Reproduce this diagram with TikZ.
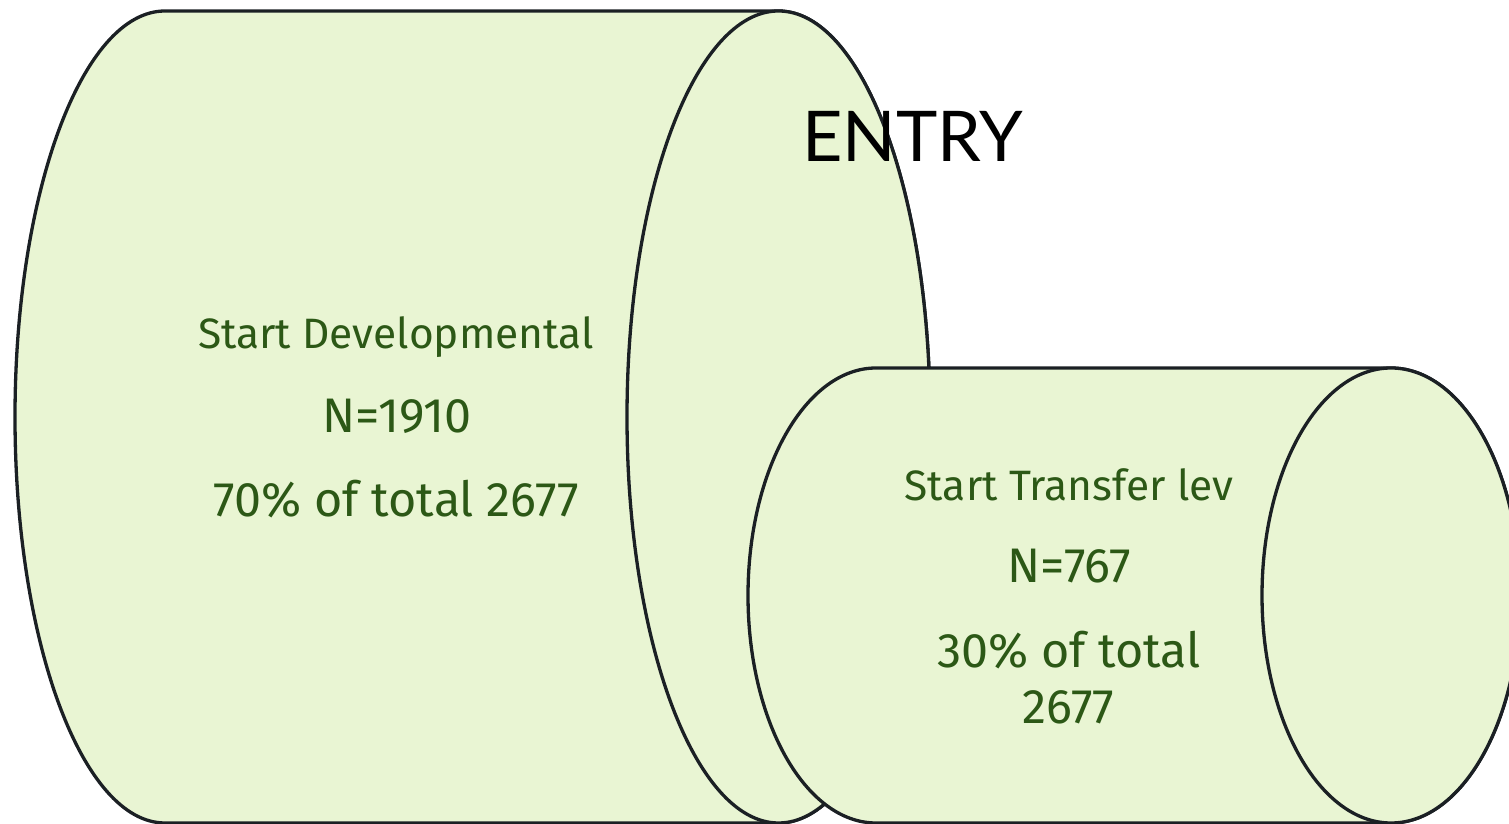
\documentclass[tikz,border=0pt]{standalone}
\usepackage{fontspec}
\setmainfont{Fira Sans}
\newfontfamily\titlefont{Lato}
\definecolor{cylfill}{HTML}{E9F5D3}
\definecolor{cylline}{HTML}{1B2024}
\definecolor{labelgreen}{RGB}{44,88,22}
\begin{document}
\begin{tikzpicture}[x=1pt,y=1pt,
  cylbody/.style={fill=cylfill,draw=cylline,line width=3.3pt,line join=round},
  headline/.style={anchor=base,text=labelgreen,font=\fontsize{42.5}{48}\selectfont},
  bigline/.style={anchor=base,text=labelgreen,font=\fontsize{48.5}{52}\selectfont},
  titletext/.style={anchor=base,text=black,font=\titlefont\fontsize{70}{76}\selectfont}]
\path[use as bounding box,clip] (0,0) rectangle (1509,824);

% large cylinder: developmental entry
\path[cylbody] (165,813) -- (778.5,813)
  arc[start angle=90,end angle=-90,x radius=151.5,y radius=406]
  -- (165,1)
  arc[start angle=270,end angle=90,x radius=150,y radius=406] -- cycle;
\draw[cylbody] (778.5,407) ellipse[x radius=151.5,y radius=406];

% small cylinder: transfer-level entry
\path[cylbody] (876,456) -- (1391,456)
  arc[start angle=90,end angle=-90,x radius=129,y radius=227.5]
  -- (876,1)
  arc[start angle=270,end angle=90,x radius=128,y radius=227.5] -- cycle;
\draw[cylbody] (1391,228.5) ellipse[x radius=129,y radius=227.5];

% labels
\node[headline] (devname) at (396,475) {Start Developmental};
\node[bigline] (devn) at (397,391.3) {N=1910};
\node[bigline] (devpct) at (396,307.3) {70\% of total 2677};

\node[headline] (trname) at (1069,323.3) {Start Transfer lev};
\node[bigline] (trn) at (1069,241.3) {N=767};
\node[bigline] (trpct) at (1069,156.7) {30\% of total};
\node[bigline] (trtot) at (1068.5,100.7) {2677};

\node[titletext] (entry) at (912.5,662.3) {ENTRY};
\end{tikzpicture}
\end{document}
